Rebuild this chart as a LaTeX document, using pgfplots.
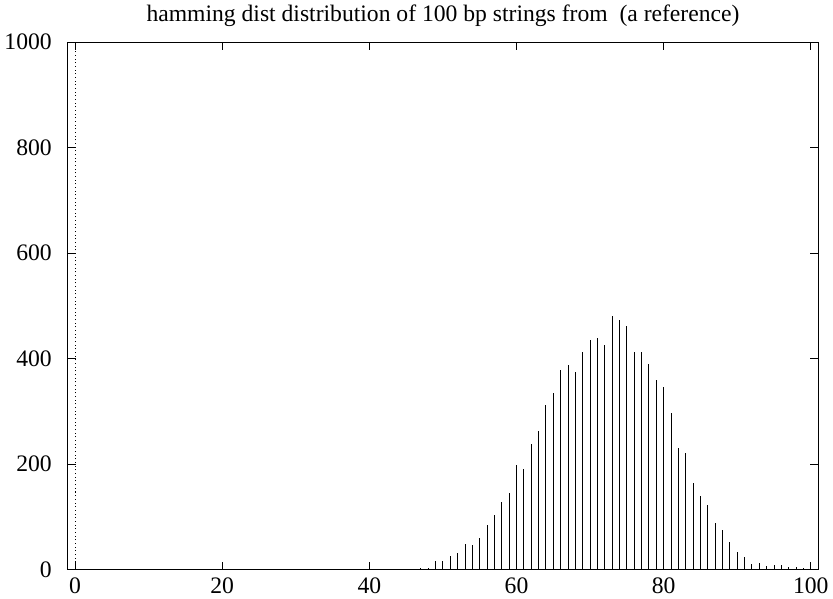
\documentclass[border=0pt]{standalone}
\usepackage{fontspec}
\setmainfont{Liberation Serif}
\usepackage{pgfplots}
\pgfplotsset{compat=1.18}
\begin{document}
\begin{tikzpicture}
\begin{axis}[scale only axis, width=562.5pt, height=395.25pt,
  xmin=-1, xmax=101, ymin=0, ymax=1000,
  xtick={0,20,...,100}, ytick={0,200,...,1000},
  minor tick num=0, major tick length=6pt,
  tick style={line width=0.75pt, black},
  axis line style={line width=0.75pt},
  /pgf/number format/assume math mode=true,
  /pgf/number format/1000 sep={},
  tick label style={font=\fontsize{17.7}{20}\selectfont},
  xticklabel style={yshift=-3pt}, yticklabel style={xshift=-8.5pt},
  title={hamming dist distribution of 100 bp strings from\ \ (a reference)},
  title style={font=\fontsize{17.7}{20}\selectfont, yshift=2.5pt},
  clip=false]
\addplot[black, dotted, line width=0.75pt] coordinates {(0,0) (0,1000)};
\addplot[ycomb, black, line width=0.75pt, mark=none] coordinates {
(41,1) (42,1) (43,1) (44,1) (45,1) (46,1) (47,2) (48,3) (49,16) (50,17)
(51,26) (52,32) (53,49) (54,47) (55,59) (56,84) (57,103) (58,129) (59,146) (60,199)
(61,190) (62,239) (63,263) (64,312) (65,334) (66,378) (67,387) (68,374) (69,413) (70,435)
(71,439) (72,426) (73,481) (74,473) (75,462) (76,412) (77,413) (78,389) (79,359) (80,346)
(81,296) (82,230) (83,221) (84,164) (85,139) (86,122) (87,88) (88,75) (89,53) (90,34)
(91,23) (92,10) (93,13) (94,7) (95,8) (96,9) (97,4) (98,4) (99,2) (100,1)};
\end{axis}
\end{tikzpicture}
\end{document}
